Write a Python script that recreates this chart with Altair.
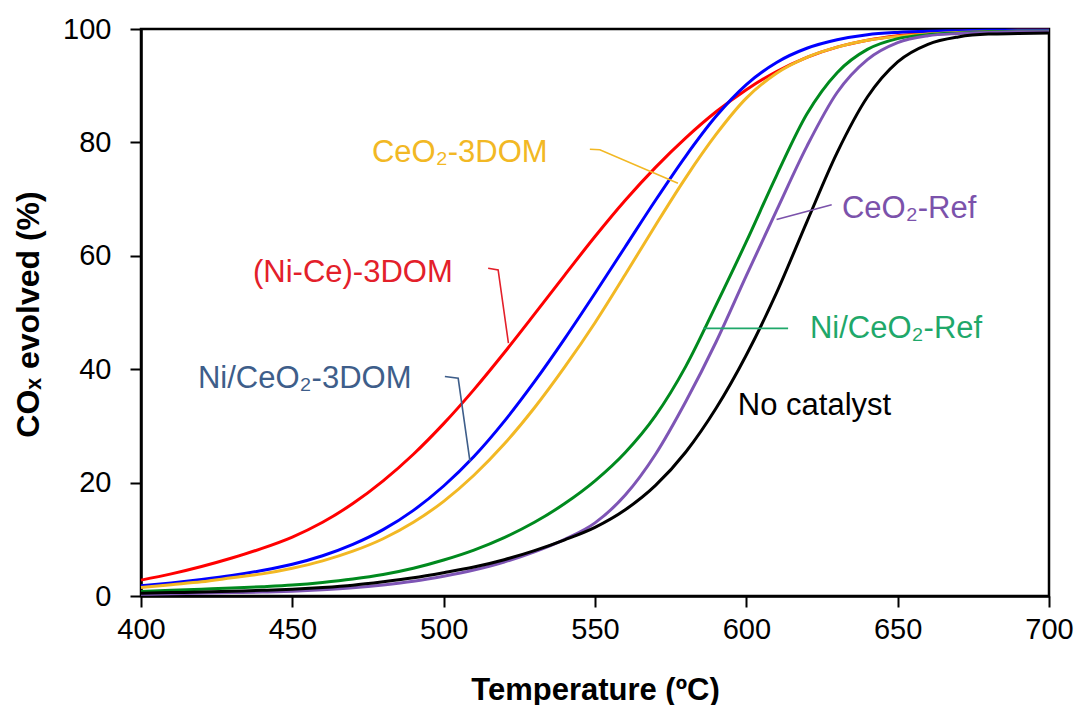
import altair as alt
import pandas as pd

temps = list(range(400, 701, 10))

series_names = ["(Ni-Ce)-3DOM", "Ni/CeO2-3DOM", "CeO2-3DOM", "Ni/CeO2-Ref", "CeO2-Ref", "No catalyst"]

red = [2.8, 3.9, 5.2, 6.7, 8.4, 10.4, 13.0, 16.3, 20.3, 25.0, 30.4, 36.4, 42.9, 49.7, 56.6, 63.4,
       69.8, 75.6, 80.8, 85.4, 89.3, 92.5, 95.0, 96.8, 98.0, 98.8, 99.3, 99.6, 99.7, 99.8, 99.8]
blue = [1.8, 2.3, 2.9, 3.6, 4.5, 5.6, 7.1, 9.1, 11.7, 15.1, 19.4, 24.6, 30.8, 37.8, 45.4, 53.4,
        61.6, 69.8, 77.6, 84.6, 90.2, 94.1, 96.6, 98.1, 99.0, 99.4, 99.6, 99.7, 99.8, 99.8, 99.8]
yellow = [1.5, 2.0, 2.5, 3.2, 3.9, 4.9, 6.2, 7.9, 10.1, 13.0, 16.7, 21.3, 26.8, 33.2, 40.4, 48.2,
          56.7, 65.4, 73.8, 81.4, 87.8, 92.2, 95.0, 96.8, 98.0, 98.7, 99.1, 99.4, 99.5, 99.6, 99.6]
green = [0.8, 1.0, 1.2, 1.4, 1.65, 1.95, 2.4, 3.0, 3.8, 4.9, 6.35, 8.1, 10.3, 13.0, 16.3, 20.3,
         25.3, 31.8, 40.5, 51.3, 62.5, 74.2, 85.0, 92.3, 96.4, 98.3, 99.0, 99.3, 99.5, 99.6, 99.6]
purple = [0.3, 0.4, 0.5, 0.6, 0.7, 0.85, 1.1, 1.45, 1.95, 2.6, 3.5, 4.6, 6.0, 7.8, 10.0, 12.9,
          17.8, 25.0, 34.3, 44.8, 56.5, 68.0, 79.3, 88.8, 94.6, 97.6, 98.8, 99.2, 99.4, 99.5, 99.5]
black = [0.5, 0.6, 0.7, 0.85, 1.0, 1.2, 1.5, 1.9, 2.5, 3.2, 4.1, 5.1, 6.4, 8.0, 9.9, 12.1,
         15.2, 19.5, 25.4, 33.1, 42.5, 53.5, 66.0, 78.2, 88.0, 94.2, 97.3, 98.6, 99.1, 99.2, 99.3]

series_values = [red, blue, yellow, green, purple, black]
line_colors = ["#FF0000", "#0000FF", "#F2B824", "#008A1E", "#7E55B5", "#000000"]

# annotation labels (left/baseline anchor in data units)
label_texts = ["(Ni-Ce)-3DOM", "Ni/CeO\u2082-3DOM", "CeO\u2082-3DOM", "Ni/CeO\u2082-Ref", "CeO\u2082-Ref", "No catalyst"]
label_x = [437.0, 418.8, 476.3, 621.0, 631.6, 597.2]
label_y = [55.4, 36.7, 76.5, 45.5, 66.7, 31.9]
label_colors = ["#E3202A", "#3E5E8A", "#F2B824", "#1FA86A", "#7B52AB", "#000000"]

# leader lines
leader_x = [[514.7, 518.0, 521.4], [500.4, 504.8, 508.7], [548.3, 551.6, 577.4], [613.8, 585.8], [628.2, 610.0]]
leader_y = [[57.8, 57.5, 44.6], [38.7, 38.4, 23.7], [78.8, 78.7, 72.8], [47.2, 47.2], [69.0, 66.4]]
leader_colors = ["#E3202A", "#3E5E8A", "#F2B824", "#1FA86A", "#7B52AB"]

FONT = "Liberation Sans"

x_enc = alt.X("T:Q", scale=alt.Scale(domain=[400, 700], nice=False, zero=False),
              axis=alt.Axis(values=[400, 450, 500, 550, 600, 650, 700], title="Temperature (\u00baC)",
                            grid=False, tickSize=11, tickWidth=2, tickColor="black",
                            domainColor="black", domainWidth=2.5, labelFontSize=29, labelFont=FONT,
                            labelColor="black", labelPadding=8, labelFlush=False,
                            titleFont=FONT, titleFontSize=31, titleFontWeight="bold", titleColor="black",
                            titleY=94, titleBaseline="middle"))
y_enc = alt.Y("v:Q", scale=alt.Scale(domain=[0, 100], nice=False),
              axis=alt.Axis(values=[0, 20, 40, 60, 80, 100], title="CO\u2093 evolved (%)",
                            grid=False, tickSize=11, tickWidth=2, tickColor="black",
                            domainColor="black", domainWidth=2.5, labelFontSize=29, labelFont=FONT,
                            labelColor="black", labelPadding=19,
                            titleFont=FONT, titleFontSize=32, titleFontWeight="bold", titleColor="black",
                            titleX=-113, titleY=285, titleAngle=-90, titleBaseline="middle", titleAlign="center"))

layers = []
for name, vals, col in zip(series_names, series_values, line_colors):
    d = pd.DataFrame({"T": temps, "v": vals})
    layers.append(alt.Chart(d).mark_line(color=col, strokeWidth=3, interpolate="monotone").encode(x=x_enc, y=y_enc))

for xs, ys, col in zip(leader_x, leader_y, leader_colors):
    d = pd.DataFrame({"T": xs, "v": ys, "i": list(range(len(xs)))})
    layers.append(alt.Chart(d).mark_line(color=col, strokeWidth=1.6).encode(
        x=x_enc, y=y_enc, order=alt.Order("i:Q")))

for t, lx, ly, col in zip(label_texts, label_x, label_y, label_colors):
    d = pd.DataFrame({"T": [lx], "v": [ly], "txt": [t]})
    layers.append(alt.Chart(d).mark_text(align="left", baseline="alphabetic", fontSize=31, font=FONT,
                                         color=col).encode(x=x_enc, y=y_enc, text="txt:N"))

chart = alt.layer(*layers).properties(
    width=908, height=567,
    padding={"left": 141, "top": 29, "right": 29, "bottom": 109},
    autosize=alt.AutoSizeParams(type="none"),
    background="white",
).configure_view(stroke="black", strokeWidth=2.5)

chart.save("out.html", embed_options={"renderer": "svg", "actions": False})
